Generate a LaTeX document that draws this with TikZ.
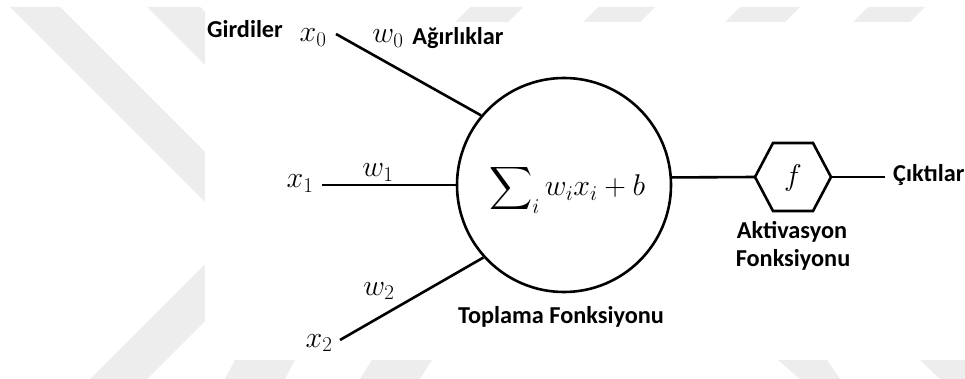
\RequirePackage{fix-cm}
\documentclass[tikz,border=0pt]{standalone}
\DeclareFontFamily{OMX}{cmex}{}
\DeclareFontShape{OMX}{cmex}{m}{n}{<->cmex10}{}
\usepackage{fontspec}
\newfontfamily\calfont{Carlito}
\definecolor{wmgray}{HTML}{EDEDED}
\tikzset{
  lab/.style={font=\calfont\bfseries\fontsize{24.3}{28}\selectfont, inner sep=0pt},
  mth/.style={font=\fontsize{30}{34}\selectfont, inner sep=0pt},
  wire/.style={line width=2.6pt},
  wm/.style={fill=wmgray, draw=none}
}
\begin{document}
\begin{tikzpicture}[x=1pt,y=-1pt]
\useasboundingbox (0,0) rectangle (965,379);
\fill[white] (0,0) rectangle (965,379);
% watermark
\fill[wm] (10,7) -- (60,7) -- (205,152) -- (205,202) -- cycle;
\fill[wm] (147,7) -- (200,7) -- (205,12) -- (205,65) -- cycle;
\fill[wm] (90,379) -- (147,379) -- (205,321) -- (205,264) -- cycle;
\fill[wm] (455,22) -- (508,22) -- (523,7) -- (470,7) -- cycle;
\fill[wm] (583,22) -- (640,22) -- (655,7) -- (598,7) -- cycle;
\fill[wm] (725,22) -- (785,22) -- (800,7) -- (740,7) -- cycle;
\fill[wm] (853,22) -- (910,22) -- (925,7) -- (868,7) -- cycle;
\fill[wm] (225,379) -- (285,379) -- (295,360) -- (235,360) -- cycle;
\fill[wm] (360,379) -- (420,379) -- (432,360) -- (372,360) -- cycle;
\fill[wm] (778,360) -- (827,360) -- (840,379) -- (800,379) -- cycle;
\fill[wm] (920,360) -- (965,360) -- (965,379) -- (940,379) -- cycle;
\fill[white] (205,22) rectangle (965,360);

% summation node
\node[circle, draw, wire, minimum size=214pt, inner sep=0pt] (circ) at (564,185) {};
\node[mth, anchor=base] (sum) at (567,196) {$\displaystyle\sum\nolimits_i w_i x_i + b$};

% inputs
\node[mth, anchor=base] (x0) at (313,42) {$x_0$};
\node[mth, anchor=base] (x1) at (300,188) {$x_1$};
\node[mth, anchor=base] (x2) at (319,347) {$x_2$};
\node[mth, anchor=base] (w0) at (388,43) {$w_0$};
\node[mth, anchor=base] (w1) at (378,177) {$w_1$};
\node[mth, anchor=base] (w2) at (379,295) {$w_2$};

\coordinate (x0e) at (336,34);
\coordinate (x1e) at (322,185);
\coordinate (x2e) at (340,340);
\draw[wire] (x0e) -- (circ.140.7);
\draw[wire] (x1e) -- (circ.west);
\draw[wire] (x2e) -- (circ.222);

% activation
\coordinate (hW) at (755,177);
\coordinate (hE) at (831,177);
\draw[wire, line join=miter] (hW) -- (773,143) -- (813,143) -- (hE) -- (813,211) -- (773,211) -- cycle;
\node[mth] (f) at (793,178) {$f$};
\draw[wire] (circ.4.3) -- (hW);
\coordinate (oute) at (885,177);
\draw[wire] (hE) -- (oute);

% labels
\node[lab, anchor=base] (gird) at (245,38) {Girdiler};
\node[lab, anchor=base] (agir) at (458,45) {Ağırlıklar};
\node[lab, anchor=base] (topl) at (561,323) {Toplama Fonksiyonu};
\node[lab, anchor=base] (akt1) at (792,238) {Aktivasyon};
\node[lab, anchor=base] (akt2) at (793,266) {Fonksiyonu};
\node[lab, anchor=base west] (cikt) at (893,182) {Çıktılar};
\end{tikzpicture}
\end{document}
